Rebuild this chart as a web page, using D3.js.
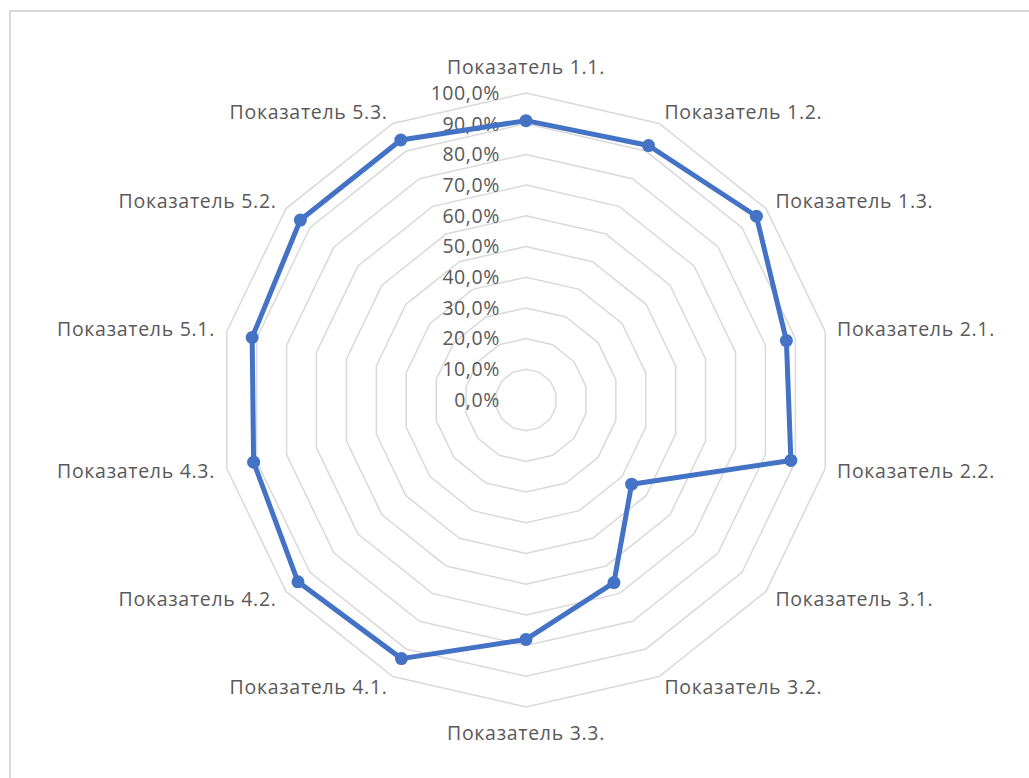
<!DOCTYPE html>
<html>
<head>
<meta charset="utf-8">
<script src="https://cdn.jsdelivr.net/npm/d3@7"></script>
<style>
  body { margin: 0; background: #fff; }
  svg { display: block; }
</style>
</head>
<body>
<script>
// indicators, clockwise from the top
var categories = ["Показатель 1.1.", "Показатель 1.2.", "Показатель 1.3.",
                  "Показатель 2.1.", "Показатель 2.2.",
                  "Показатель 3.1.", "Показатель 3.2.", "Показатель 3.3.",
                  "Показатель 4.1.", "Показатель 4.2.", "Показатель 4.3.",
                  "Показатель 5.1.", "Показатель 5.2.", "Показатель 5.3."];
var values = [0.91, 0.92, 0.96, 0.87, 0.885, 0.44, 0.66, 0.78, 0.935, 0.95, 0.91, 0.915, 0.94, 0.94];
var ticks = [0, 0.1, 0.2, 0.3, 0.4, 0.5, 0.6, 0.7, 0.8, 0.9, 1.0];

var width = 1029, height = 778;
var cx = 526, cy = 400, R = 307;

var svg = d3.select("body").append("svg").attr("width", width).attr("height", height);

// chart area border (right and bottom fall off the picture)
svg.append("rect")
  .attr("x", 10).attr("y", 11)
  .attr("width", 1040).attr("height", 800)
  .attr("fill", "none").attr("stroke", "#d9d9d9").attr("stroke-width", 2);

var r = d3.scaleLinear().domain([0, 1]).range([0, R]);
var ang = d3.scaleLinear().domain([0, categories.length]).range([0, 2 * Math.PI]);

//grid rings
var ring = d3.lineRadial()
  .angle(function(d, i) { return ang(i); })
  .radius(function(d) { return r(d); })
  .curve(d3.curveLinearClosed);

var g = svg.append("g").attr("transform", "translate(" + cx + "," + cy + ")");

g.selectAll("path.ring")
  .data(ticks.slice(1))
  .enter().append("path")
    .attr("class", "ring")
    .attr("fill", "none")
    .attr("stroke", "#d9d9d9")
    .attr("stroke-width", 1.5)
    .attr("d", function(t) { return ring(categories.map(function() { return t; })); });

var fmt = function(v) { return d3.format(".1f")(v * 100).replace(".", ",") + "%"; };

g.selectAll("text.tick")
  .data(ticks)
  .enter().append("text")
    .attr("class", "tick")
    .attr("x", -26)
    .attr("y", function(d) { return -r(d); })
    .attr("dy", "0.35em")
    .attr("text-anchor", "end")
    .attr("font-family", "Open Sans")
    .attr("font-size", 19.5)
    .attr("letter-spacing", 0.6)
    .attr("fill", "#595959")
    .text(fmt);

// category labels round the outside
var L = R + 12;
g.selectAll("text.cat")
  .data(categories)
  .enter().append("text")
    .attr("class", "cat")
    .attr("x", function(d, i) { return L * Math.sin(ang(i)); })
    .attr("y", function(d, i) {
      var s = Math.sin(ang(i)), c = Math.cos(ang(i));
      var y = -L * c;
      if (Math.abs(s) < 0.1) y -= c * 14;
      return y;
    })
    .attr("dy", "0.35em")
    .attr("text-anchor", function(d, i) {
      var s = Math.sin(ang(i));
      return s > 0.1 ? "start" : (s < -0.1 ? "end" : "middle");
    })
    .attr("font-family", "Open Sans")
    .attr("font-size", 19.5)
    .attr("letter-spacing", 0.7)
    .attr("fill", "#595959")
    .text(function(d) { return d; });

//data series
var line = d3.lineRadial()
  .angle(function(d, i) { return ang(i); })
  .radius(function(d) { return r(d); })
  .curve(d3.curveLinearClosed);

g.append("path")
  .attr("fill", "none")
  .attr("stroke", "#4472c4")
  .attr("stroke-width", 5)
  .attr("stroke-linejoin", "round")
  .attr("d", line(values));

g.selectAll("circle.pt")
  .data(values)
  .enter().append("circle")
    .attr("class", "pt")
    .attr("cx", function(d, i) { return r(d) * Math.sin(ang(i)); })
    .attr("cy", function(d, i) { return -r(d) * Math.cos(ang(i)); })
    .attr("r", 6.5)
    .attr("fill", "#4472c4");
</script>
</body>
</html>
